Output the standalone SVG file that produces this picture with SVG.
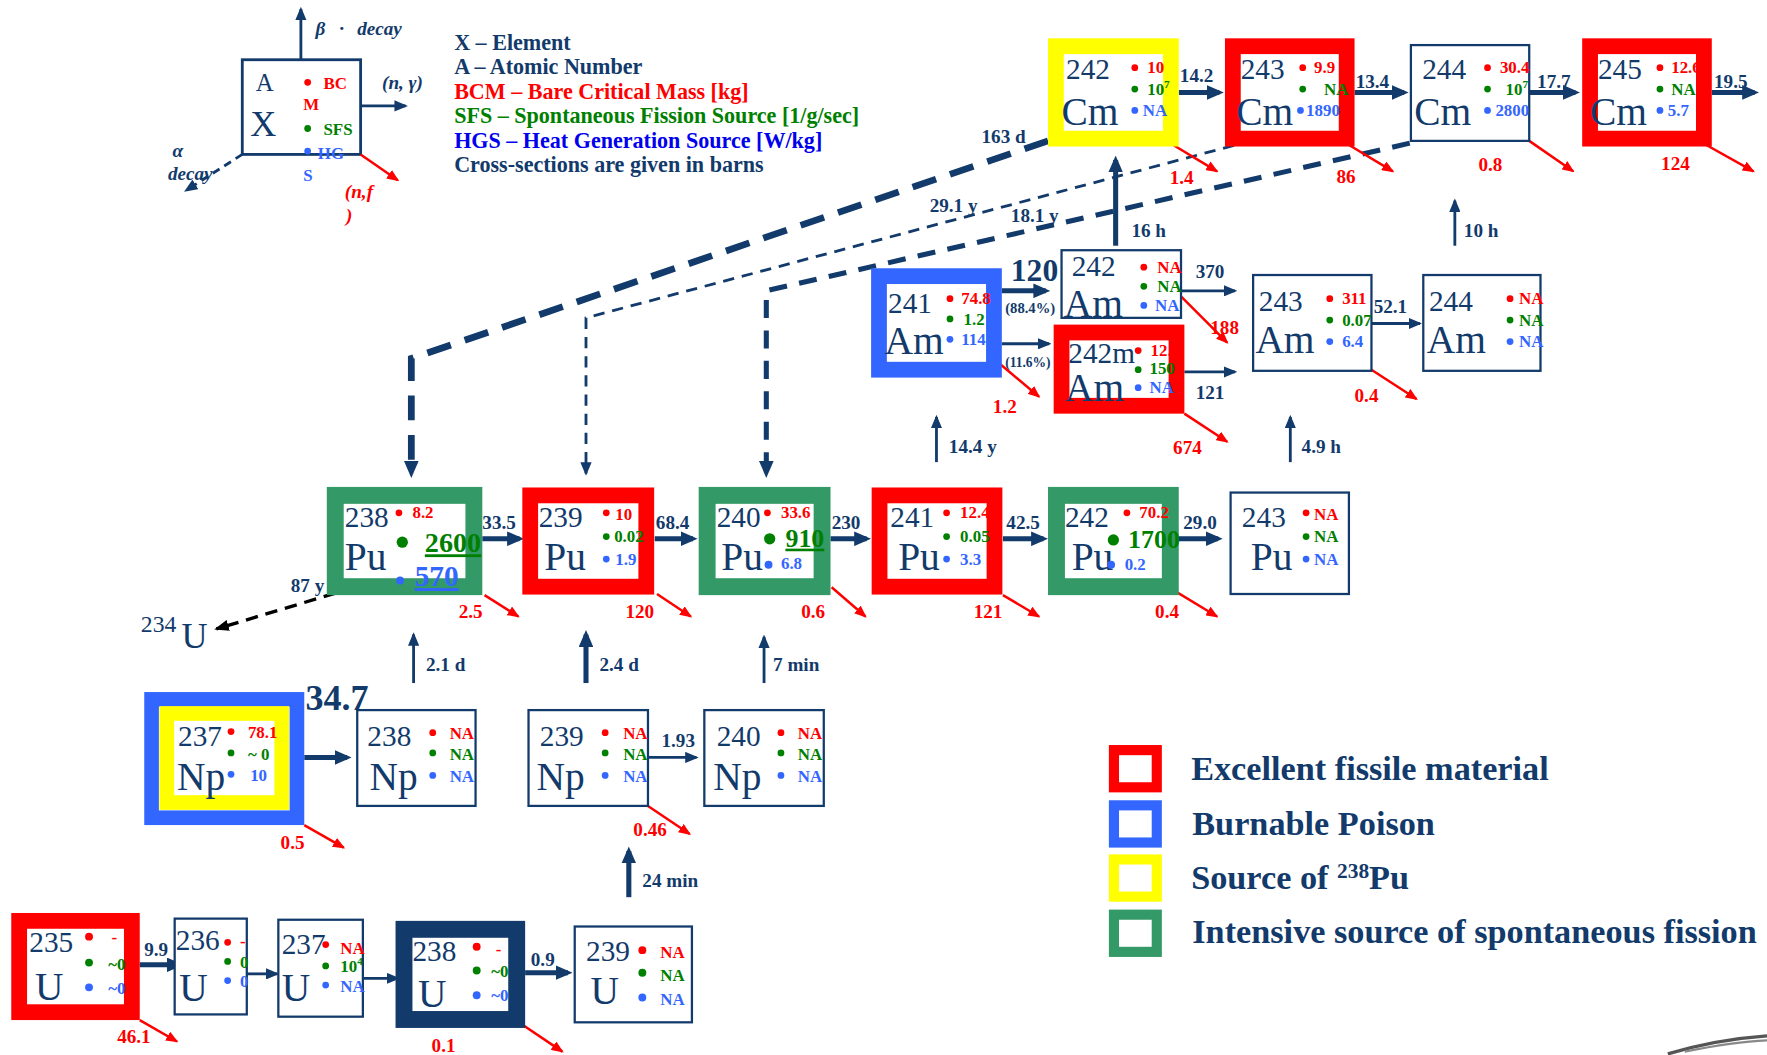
<svg xmlns="http://www.w3.org/2000/svg" width="1767" height="1055" viewBox="0 0 1767 1055">
<style>
text{font-family:"Liberation Serif","Times New Roman",serif}
.nv{fill:#123a6b}
.num{font-size:26px;fill:#123a6b}
.el{font-size:35px;fill:#123a6b}
.v{font-weight:bold;font-size:15px}
.r{fill:#ff0000}.g{fill:#008000}.b{fill:#3366ff}
.lb{font-weight:bold;font-size:17px;fill:#123a6b}
.fl{font-weight:bold;font-size:17px;fill:#ff0000}
.lg{font-weight:bold;font-size:19.6px}
.bl{font-weight:bold;font-size:30.4px;fill:#123a6b}
.it{font-style:italic;font-weight:bold;font-size:17px}
.thin{fill:#fff;stroke:#123a6b;stroke-width:2}
.fR{fill:#fff;stroke:#ff0000;stroke-width:14}
.fB{fill:#fff;stroke:#3366ff;stroke-width:14}
.fY{fill:#fff;stroke:#ffff00;stroke-width:14}
.fG{fill:#fff;stroke:#339966;stroke-width:15}
.fN{fill:#fff;stroke:#123a6b;stroke-width:15}
.na{stroke:#123a6b;fill:none;stroke-width:2.5;marker-end:url(#mn)}
.nb{stroke:#123a6b;fill:none;stroke-width:4.5;marker-end:url(#mnb)}
.fa{stroke:#ff0000;fill:none;stroke-width:2.2;marker-end:url(#mr)}
.dr{fill:#ff0000}.dg{fill:#008000}.db{fill:#3366ff}
</style>
<defs>
<marker id="mn" viewBox="0 0 12 10" refX="10" refY="5" markerWidth="12" markerHeight="10" markerUnits="userSpaceOnUse" orient="auto"><path d="M0,0L12,5L0,10z" fill="#123a6b"/></marker>
<marker id="mnb" viewBox="0 0 15 13" refX="11" refY="6.5" markerWidth="15" markerHeight="13" markerUnits="userSpaceOnUse" orient="auto"><path d="M0,0L15,6.5L0,13z" fill="#123a6b"/></marker>
<marker id="mr" viewBox="0 0 11 9" refX="9.5" refY="4.5" markerWidth="11" markerHeight="9" markerUnits="userSpaceOnUse" orient="auto"><path d="M0,0L11,4.5L0,9z" fill="#ff0000"/></marker>
<marker id="mk" viewBox="0 0 13 10" refX="11" refY="5" markerWidth="13" markerHeight="10" markerUnits="userSpaceOnUse" orient="auto"><path d="M0,0L13,5L0,10z" fill="#000"/></marker>
</defs>
<rect width="1767" height="1055" fill="#fff"/>
<g transform="scale(1.126913,1.127137)">

<g id="connectors">
<path d="M930,125L365,318L365,420" fill="none" stroke="#123a6b" stroke-width="6" stroke-dasharray="22 13" marker-end="url(#mnb)"/>
<path d="M1095,129L520,282L520,420" fill="none" stroke="#123a6b" stroke-width="2.5" stroke-dasharray="10 7" marker-end="url(#mn)"/>
<path d="M1251,127L680,258L680,420" fill="none" stroke="#123a6b" stroke-width="4.5" stroke-dasharray="16 11" marker-end="url(#mnb)"/>
<text class="lb" x="871" y="127">163 d</text>
<text class="lb" x="825" y="188">29.1 y</text>
<text class="lb" x="897" y="197">18.1 y</text>

<line class="nb" x1="1046" y1="82" x2="1082" y2="82"/><text class="lb" x="1047" y="73">14.2</text>
<line class="nb" x1="1202" y1="82" x2="1246" y2="82"/><text class="lb" x="1203" y="78">13.4</text>
<line class="nb" x1="1357" y1="82" x2="1398" y2="82"/><text class="lb" x="1364" y="78">17.7</text>
<line class="nb" x1="1519" y1="82" x2="1557" y2="82"/><text class="lb" x="1521" y="78">19.5</text>
<line class="fa" x1="1040" y1="128" x2="1080" y2="152"/><text class="fl" x="1038" y="163">1.4</text>
<line class="fa" x1="1196" y1="128" x2="1236" y2="152"/><text class="fl" x="1186" y="162">86</text>
<line class="fa" x1="1357" y1="125" x2="1396" y2="152"/><text class="fl" x="1312" y="152">0.8</text>
<line class="fa" x1="1513" y1="128" x2="1556" y2="152"/><text class="fl" x="1474" y="151">124</text>

<line class="nb" x1="889" y1="258" x2="928" y2="258" stroke-width="5.5"/>
<text class="nv" x="897" y="249" font-size="28" font-weight="bold">120</text>
<text class="nv" x="892" y="278" font-size="13" font-weight="bold">(88.4%)</text>
<line class="na" x1="889" y1="305" x2="931" y2="305" stroke-width="3"/>
<text class="nv" x="892" y="326" font-size="12" font-weight="bold">(11.6%)</text>
<line class="fa" x1="884" y1="320" x2="922" y2="352"/><text class="fl" x="881" y="366">1.2</text>
<line class="na" x1="1048" y1="258" x2="1096" y2="258"/><text class="lb" x="1061" y="247" font-size="15">370</text>
<line class="fa" x1="1048" y1="263" x2="1089" y2="304"/><text class="fl" x="1074" y="296">188</text>
<line class="na" x1="1051" y1="330" x2="1096" y2="330" stroke-width="3"/><text class="lb" x="1061" y="354" font-size="15">121</text>
<line class="fa" x1="1051" y1="367" x2="1089" y2="392"/><text class="fl" x="1041" y="403">674</text>
<line class="na" x1="1217" y1="287" x2="1260" y2="287" stroke-width="3"/><text class="lb" x="1219" y="278" font-size="15">52.1</text>
<line class="fa" x1="1217" y1="328" x2="1257" y2="354"/><text class="fl" x="1202" y="357">0.4</text>

<line class="nb" x1="990" y1="218" x2="990" y2="142" stroke-width="5"/><text class="lb" x="1004" y="210" font-size="15">16 h</text>
<line class="na" x1="1291" y1="218" x2="1291" y2="178"/><text class="lb" x="1299" y="210" font-size="15">10 h</text>
<line class="na" x1="831" y1="410" x2="831" y2="370"/><text class="lb" x="842" y="402" font-size="15">14.4  y</text>
<line class="na" x1="1145" y1="410" x2="1145" y2="370"/><text class="lb" x="1155" y="402" font-size="15">4.9 h</text>

<line class="nb" x1="428" y1="478" x2="461" y2="478"/><text class="lb" x="428" y="469">33.5</text>
<line class="nb" x1="581" y1="478" x2="615" y2="478"/><text class="lb" x="582" y="469">68.4</text>
<line class="nb" x1="737" y1="478" x2="769" y2="478"/><text class="lb" x="738" y="469">230</text>
<line class="nb" x1="890" y1="478" x2="926" y2="478"/><text class="lb" x="893" y="469">42.5</text>
<line class="nb" x1="1046" y1="478" x2="1081" y2="478"/><text class="lb" x="1050" y="469">29.0</text>
<line class="fa" x1="430" y1="528" x2="460" y2="547"/><text class="fl" x="407" y="548">2.5</text>
<line class="fa" x1="583" y1="527" x2="613" y2="547"/><text class="fl" x="555" y="548">120</text>
<line class="fa" x1="738" y1="521" x2="768" y2="547"/><text class="fl" x="711" y="548">0.6</text>
<line class="fa" x1="890" y1="528" x2="922" y2="547"/><text class="fl" x="864" y="548">121</text>
<line class="fa" x1="1042" y1="524" x2="1080" y2="547"/><text class="fl" x="1025" y="548">0.4</text>
<line x1="315" y1="521" x2="192" y2="558" stroke="#000" stroke-width="3" stroke-dasharray="11 7" marker-end="url(#mk)"/>
<text class="lb" x="258" y="525" font-size="15">87 y</text>

<line class="na" x1="367" y1="606" x2="367" y2="563"/><text class="lb" x="378" y="595" font-size="15">2.1 d</text>
<line class="nb" x1="520" y1="606" x2="520" y2="563" stroke-width="4"/><text class="lb" x="532" y="595" font-size="15">2.4 d</text>
<line class="na" x1="678" y1="606" x2="678" y2="565" stroke-width="2"/><text class="lb" x="686" y="595" font-size="15">7 min</text>

<text class="nv" x="271" y="630" font-size="32" font-weight="bold">34.7</text>
<line class="nb" x1="270" y1="672" x2="308" y2="672" stroke-width="5"/>
<line class="fa" x1="270" y1="732" x2="305" y2="752"/><text class="fl" x="249" y="753">0.5</text>
<line class="na" x1="575" y1="672" x2="618" y2="672" stroke-width="3"/><text class="lb" x="587" y="663" font-size="15">1.93</text>
<line class="fa" x1="575" y1="715" x2="612" y2="740"/><text class="fl" x="562" y="742">0.46</text>

<line class="nb" x1="558" y1="796" x2="558" y2="755" stroke-width="5"/><text class="lb" x="570" y="787" font-size="15">24 min</text>
<line class="nb" x1="124" y1="856" x2="159" y2="856" stroke-width="5"/><text class="lb" x="128" y="848" font-size="15">9.9</text>
<line class="fa" x1="124" y1="905" x2="157" y2="924"/><text class="fl" x="104" y="925">46.1</text>
<line class="na" x1="219" y1="864" x2="246" y2="864" stroke-width="3"/>
<line class="na" x1="322" y1="868" x2="353" y2="868" stroke-width="3"/>
<line class="nb" x1="466" y1="863" x2="504" y2="863" stroke-width="5"/><text class="lb" x="471" y="857" font-size="15">0.9</text>
<line class="fa" x1="462" y1="908" x2="499" y2="933"/><text class="fl" x="383" y="933">0.1</text>
</g>

<g id="key">
<rect x="215" y="53" width="105" height="84" fill="none" stroke="#123a6b" stroke-width="2.5"/>
<text class="nv" x="227" y="81" font-size="22">A</text>
<text class="nv" x="222" y="121" font-size="32">X</text>
<circle class="dr" cx="273" cy="73" r="3"/><text class="v r" x="287" y="79">BC</text><text class="v r" x="269" y="98">M</text>
<circle class="dg" cx="273" cy="114" r="3"/><text class="v g" x="287" y="120">SFS</text>
<circle class="db" cx="273" cy="134" r="3"/><text class="v b" x="282" y="141">HG</text><text class="v b" x="269" y="161">S</text>
<line class="na" x1="267" y1="53" x2="267" y2="8"/>
<text class="it nv" x="280" y="31">β<tspan x="301">·</tspan><tspan x="317">decay</tspan></text>
<line class="na" x1="320" y1="94" x2="360" y2="94"/>
<text class="it nv" x="339" y="79">(n, γ)</text>
<line x1="215" y1="137" x2="165" y2="169" stroke="#123a6b" stroke-width="2.5" stroke-dasharray="7 5" marker-end="url(#mn)"/>
<text class="it nv" x="153" y="139">α</text>
<text class="it nv" x="149" y="160">decay</text>
<line class="fa" x1="320" y1="137" x2="353" y2="160"/>
<text class="it r" x="306" y="176">(n,f</text>
<text class="it r" x="307" y="197">)</text>
<text class="lg nv" x="403" y="44">X – Element</text>
<text class="lg nv" x="403" y="66">A – Atomic Number</text>
<text class="lg r" x="403" y="88">BCM – Bare Critical Mass [kg]</text>
<text class="lg g" x="403" y="109">SFS – Spontaneous Fission Source [1/g/sec]</text>
<text class="lg" fill="#0000ee" x="403" y="131">HGS – Heat Generation Source [W/kg]</text>
<text class="lg nv" x="403" y="153">Cross-sections are given in barns</text>
</g>

<g id="cm242">
<rect class="fY" x="937" y="41" width="102" height="82"/>
<text class="num" x="946" y="70">242</text><text class="el" x="942" y="111">Cm</text>
<circle class="dr" cx="1007" cy="60" r="3"/><circle class="dg" cx="1007" cy="79" r="3"/><circle class="db" cx="1007" cy="98" r="3"/>
<text class="v r" x="1018" y="65">10</text>
<text class="v g" x="1018" y="84">10<tspan dy="-6" font-size="10">7</tspan></text>
<text class="v b" x="1014" y="103">NA</text>
</g>
<g id="cm243">
<rect class="fR" x="1094" y="41" width="101" height="82"/>
<text class="num" x="1101" y="70">243</text><text class="el" x="1097" y="111">Cm</text>
<circle class="dr" cx="1156" cy="60" r="3"/><circle class="dg" cx="1156" cy="79" r="3"/><circle class="db" cx="1154" cy="98" r="3"/>
<text class="v r" x="1166" y="65">9.9</text>
<text class="v g" x="1175" y="84">NA</text>
<text class="v b" x="1159" y="103">1890</text>
</g>
<g id="cm244">
<rect class="thin" x="1252" y="40" width="105" height="85"/>
<text class="num" x="1262" y="70">244</text><text class="el" x="1255" y="111">Cm</text>
<circle class="dr" cx="1320" cy="60" r="3"/><circle class="dg" cx="1320" cy="79" r="3"/><circle class="db" cx="1320" cy="98" r="3"/>
<text class="v r" x="1331" y="65">30.4</text>
<text class="v g" x="1336" y="84">10<tspan dy="-6" font-size="10">7</tspan></text>
<text class="v b" x="1327" y="103">2800</text>
</g>
<g id="cm245">
<rect class="fR" x="1411" y="41" width="101" height="82"/>
<text class="num" x="1418" y="70">245</text><text class="el" x="1411" y="111">Cm</text>
<circle class="dr" cx="1473" cy="60" r="3"/><circle class="dg" cx="1473" cy="79" r="3"/><circle class="db" cx="1473" cy="98" r="3"/>
<text class="v r" x="1483" y="65">12.6</text>
<text class="v g" x="1483" y="84">NA</text>
<text class="v b" x="1480" y="103">5.7</text>
</g>

<g id="am241">
<rect class="fB" x="780" y="245" width="102" height="83"/>
<text class="num" x="788" y="278">241</text><text class="el" x="785" y="314">Am</text>
<circle class="dr" cx="843" cy="265" r="3"/><circle class="dg" cx="843" cy="283" r="3"/><circle class="db" cx="843" cy="301" r="3"/>
<text class="v r" x="853" y="270">74.8</text>
<text class="v g" x="855" y="288">1.2</text>
<text class="v b" x="853" y="306">114</text>
</g>
<g id="am242">
<rect class="thin" x="942" y="222" width="106" height="60"/>
<text class="num" x="951" y="245" font-size="22">242</text><text class="el" x="944" y="281" font-size="29">Am</text>
<circle class="dr" cx="1015" cy="237" r="3"/><circle class="dg" cx="1015" cy="254" r="3"/><circle class="db" cx="1015" cy="271" r="3"/>
<text class="v r" x="1027" y="242" font-size="13">NA</text>
<text class="v g" x="1027" y="259" font-size="13">NA</text>
<text class="v b" x="1025" y="276" font-size="13">NA</text>
</g>
<g id="am242m">
<rect class="fR" x="942" y="295" width="102" height="65"/>
<text class="num" x="948" y="322" font-size="21">242m</text><text class="el" x="945" y="356" font-size="31">Am</text>
<circle class="dr" cx="1010" cy="311" r="3"/><circle class="dg" cx="1010" cy="328" r="3"/><circle class="db" cx="1010" cy="344" r="3"/>
<text class="v r" x="1021" y="316" font-size="13">12.</text>
<text class="v g" x="1020" y="332" font-size="13">150</text>
<text class="v b" x="1020" y="349" font-size="13">NA</text>
</g>
<g id="am243">
<rect class="thin" x="1112" y="244" width="105" height="85"/>
<text class="num" x="1117" y="276">243</text><text class="el" x="1114" y="313">Am</text>
<circle class="dr" cx="1180" cy="265" r="3"/><circle class="dg" cx="1180" cy="284" r="3"/><circle class="db" cx="1180" cy="303" r="3"/>
<text class="v r" x="1191" y="270">311</text>
<text class="v g" x="1191" y="289">0.07</text>
<text class="v b" x="1191" y="308">6.4</text>
</g>
<g id="am244">
<rect class="thin" x="1263" y="244" width="104" height="85"/>
<text class="num" x="1268" y="276">244</text><text class="el" x="1266" y="313">Am</text>
<circle class="dr" cx="1340" cy="265" r="3"/><circle class="dg" cx="1340" cy="284" r="3"/><circle class="db" cx="1340" cy="303" r="3"/>
<text class="v r" x="1348" y="270">NA</text>
<text class="v g" x="1348" y="289">NA</text>
<text class="v b" x="1348" y="308">NA</text>
</g>

<g id="pu238">
<rect class="fG" x="297.5" y="439.5" width="123" height="81"/>
<text class="num" x="306" y="468">238</text><text class="el" x="306" y="506">Pu</text>
<circle class="dr" cx="354" cy="455" r="3"/><text class="v r" x="366" y="460">8.2</text>
<circle class="dg" cx="357" cy="481" r="5"/><text class="g" x="377" y="490" font-size="25" font-weight="bold" text-decoration="underline">2600</text>
<circle class="db" cx="355" cy="515" r="3.5"/><text class="b" x="368" y="520" font-size="26" font-weight="bold" text-decoration="underline">570</text>
</g>
<g id="pu239">
<rect class="fR" x="470.5" y="439.5" width="103" height="81" stroke-width="15"/>
<text class="num" x="478" y="468">239</text><text class="el" x="483" y="506">Pu</text>
<circle class="dr" cx="538" cy="455" r="3"/><circle class="dg" cx="538" cy="476" r="3"/><circle class="db" cx="538" cy="496" r="3"/>
<text class="v r" x="546" y="461">10</text>
<text class="v g" x="545" y="481">0.02</text>
<text class="v b" x="546" y="501">1.9</text>
</g>
<g id="pu240">
<rect class="fG" x="627.5" y="439.5" width="102" height="81"/>
<text class="num" x="636" y="468">240</text><text class="el" x="640" y="506">Pu</text>
<circle class="dr" cx="681" cy="455" r="3"/><text class="v r" x="693" y="460">33.6</text>
<circle class="dg" cx="683" cy="478" r="5"/><text class="g" x="697" y="485" font-size="23" font-weight="bold" text-decoration="underline">910</text>
<circle class="db" cx="682" cy="501" r="3.5"/><text class="v b" x="693" y="505">6.8</text>
</g>
<g id="pu241">
<rect class="fR" x="780.5" y="439.5" width="102" height="81" stroke-width="15"/>
<text class="num" x="790" y="468">241</text><text class="el" x="797" y="506">Pu</text>
<circle class="dr" cx="840" cy="455" r="3"/><circle class="dg" cx="840" cy="476" r="3"/><circle class="db" cx="840" cy="496" r="3"/>
<text class="v r" x="852" y="460">12.4</text>
<text class="v g" x="852" y="481">0.05</text>
<text class="v b" x="852" y="501">3.3</text>
</g>
<g id="pu242">
<rect class="fG" x="937.5" y="439.5" width="101" height="81"/>
<text class="num" x="945" y="468">242</text><text class="el" x="951" y="506">Pu</text>
<circle class="dr" cx="1000" cy="455" r="3"/><text class="v r" x="1011" y="460">70.2</text>
<circle class="dg" cx="988" cy="479" r="5"/><text class="g" x="1001" y="486" font-size="23" font-weight="bold">1700</text>
<circle class="db" cx="986" cy="501" r="3.5"/><text class="v b" x="998" y="506">0.2</text>
</g>
<g id="pu243">
<rect class="thin" x="1092" y="437" width="105" height="90"/>
<text class="num" x="1102" y="468">243</text><text class="el" x="1110" y="506">Pu</text>
<circle class="dr" cx="1159" cy="455" r="3"/><circle class="dg" cx="1159" cy="476" r="3"/><circle class="db" cx="1159" cy="496" r="3"/>
<text class="v r" x="1166" y="461">NA</text>
<text class="v g" x="1166" y="481">NA</text>
<text class="v b" x="1166" y="501">NA</text>
</g>
<g id="u234">
<text class="nv" x="125" y="561" font-size="21">234</text><text class="nv" x="161" y="575" font-size="32">U</text>
</g>

<g id="np237">
<rect x="134.5" y="620.5" width="129" height="105" fill="#fff" stroke="#3366ff" stroke-width="13"/>
<rect x="148" y="633" width="102" height="79" fill="#fff" stroke="#ffff00" stroke-width="13"/>
<text class="num" x="158" y="662">237</text><text class="el" x="157" y="701">Np</text>
<circle class="dr" cx="205" cy="649" r="3"/><circle class="dg" cx="205" cy="668" r="3"/><circle class="db" cx="205" cy="687" r="3"/>
<text class="v r" x="220" y="655" font-size="16">78.1</text>
<text class="v g" x="220" y="674" font-size="16">~ 0</text>
<text class="v b" x="222" y="693" font-size="16">10</text>
</g>
<g id="np238">
<rect class="thin" x="317" y="630" width="105" height="85"/>
<text class="num" x="326" y="662">238</text><text class="el" x="328" y="701">Np</text>
<circle class="dr" cx="384" cy="650" r="3"/><circle class="dg" cx="384" cy="668" r="3"/><circle class="db" cx="384" cy="688" r="3"/>
<text class="v r" x="399" y="656" font-size="17">NA</text>
<text class="v g" x="399" y="674" font-size="17">NA</text>
<text class="v b" x="399" y="694" font-size="17">NA</text>
</g>
<g id="np239">
<rect class="thin" x="469" y="630" width="106" height="85"/>
<text class="num" x="479" y="662">239</text><text class="el" x="476" y="701">Np</text>
<circle class="dr" cx="537" cy="650" r="3"/><circle class="dg" cx="537" cy="668" r="3"/><circle class="db" cx="537" cy="688" r="3"/>
<text class="v r" x="553" y="656" font-size="17">NA</text>
<text class="v g" x="553" y="674" font-size="17">NA</text>
<text class="v b" x="553" y="694" font-size="17">NA</text>
</g>
<g id="np240">
<rect class="thin" x="625" y="630" width="106" height="85"/>
<text class="num" x="636" y="662">240</text><text class="el" x="633" y="701">Np</text>
<circle class="dr" cx="693" cy="650" r="3"/><circle class="dg" cx="693" cy="668" r="3"/><circle class="db" cx="693" cy="688" r="3"/>
<text class="v r" x="708" y="656" font-size="17">NA</text>
<text class="v g" x="708" y="674" font-size="17">NA</text>
<text class="v b" x="708" y="694" font-size="17">NA</text>
</g>

<g id="u235">
<rect class="fR" x="17" y="817" width="100" height="81"/>
<text class="num" x="26" y="845">235</text><text class="el" x="31" y="887" font-size="37">U</text>
<circle class="dr" cx="79" cy="831" r="3.5"/><circle class="dg" cx="79" cy="854" r="3.5"/><circle class="db" cx="79" cy="876" r="3.5"/>
<text class="v r" x="99" y="837" font-size="18">-</text>
<text class="v g" x="96" y="861" font-size="18">~0</text>
<text class="v b" x="96" y="882" font-size="18">~0</text>
</g>
<g id="u236">
<rect class="thin" x="155" y="815" width="64" height="85"/>
<text class="num" x="156" y="843" font-size="22">236</text><text class="el" x="159" y="888">U</text>
<circle class="dr" cx="202" cy="836" r="3"/><circle class="dg" cx="202" cy="853" r="3"/><circle class="db" cx="202" cy="870" r="3"/>
<text class="v r" x="213" y="840">-</text>
<text class="v g" x="213" y="859">0</text>
<text class="v b" x="213" y="876">0</text>
</g>
<g id="u237">
<rect class="thin" x="247" y="816" width="75" height="86"/>
<text class="num" x="250" y="846" font-size="22">237</text><text class="el" x="250" y="888">U</text>
<circle class="dr" cx="289" cy="838" r="3"/><circle class="dg" cx="289" cy="857" r="3"/><circle class="db" cx="289" cy="874" r="3"/>
<text class="v r" x="302" y="846">NA</text>
<text class="v g" x="302" y="862">10<tspan dy="-6" font-size="10">4</tspan></text>
<text class="v b" x="302" y="880">NA</text>
</g>
<g id="u238">
<rect class="fN" x="358.5" y="824.5" width="100" height="80"/>
<text class="num" x="366" y="853">238</text><text class="el" x="371" y="893" font-size="37">U</text>
<circle class="dr" cx="423" cy="840" r="3.5"/><circle class="dg" cx="423" cy="861" r="3.5"/><circle class="db" cx="423" cy="883" r="3.5"/>
<text class="v r" x="440" y="847" font-size="18">-</text>
<text class="v g" x="436" y="867" font-size="18">~0</text>
<text class="v b" x="436" y="888" font-size="18">~0</text>
</g>
<g id="u239">
<rect class="thin" x="510" y="822" width="104" height="85"/>
<text class="num" x="520" y="853">239</text><text class="el" x="524" y="891" font-size="37">U</text>
<circle class="dr" cx="570" cy="843" r="3.5"/><circle class="dg" cx="570" cy="863" r="3.5"/><circle class="db" cx="570" cy="885" r="3.5"/>
<text class="v r" x="586" y="850" font-size="17">NA</text>
<text class="v g" x="586" y="870" font-size="17">NA</text>
<text class="v b" x="586" y="892" font-size="17">NA</text>
</g>

<g id="color-legend">
<rect x="988.5" y="665.5" width="38" height="33" fill="#fff" stroke="#ff0000" stroke-width="9"/>
<rect x="988.5" y="714.5" width="38" height="33" fill="#fff" stroke="#3366ff" stroke-width="9"/>
<rect x="988.5" y="762.5" width="38" height="33" fill="#fff" stroke="#ffff00" stroke-width="9"/>
<rect x="988.5" y="811.5" width="38" height="33" fill="#fff" stroke="#339966" stroke-width="9"/>
<text class="bl" x="1057" y="692">Excellent fissile material</text>
<text class="bl" x="1058" y="741">Burnable Poison</text>
<text class="bl" x="1057" y="789">Source of <tspan dy="-10" font-size="19">238</tspan><tspan dy="10">Pu</tspan></text>
<text class="bl" x="1058" y="837">Intensive source of spontaneous fission</text>
</g>

<path d="M1480,935C1510,926 1540,921 1568,919" fill="none" stroke="#555" stroke-width="3"/>
<path d="M1495,933C1520,928 1545,924 1568,923" fill="none" stroke="#888" stroke-width="2"/>
</g>
</svg>
